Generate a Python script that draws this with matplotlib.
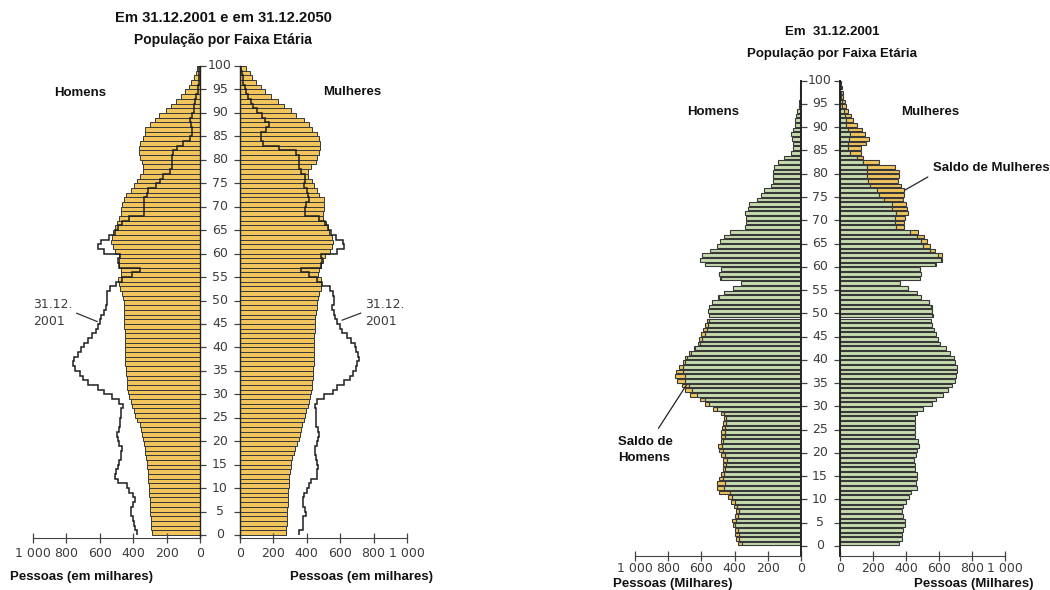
import matplotlib
matplotlib.use("Agg")
import matplotlib.pyplot as plt
import numpy as np
from matplotlib.transforms import blended_transform_factory

# ---------------- data (thousands of persons, ages 0..99) ----------------
ages = np.arange(100)

male_2001 = [377, 392, 396, 400, 412, 416, 400, 392, 404, 424,
             440, 492, 508, 504, 492, 484, 472, 472, 468, 484,
             492, 500, 484, 480, 480, 476, 472, 464, 484, 528,
             576, 608, 668, 700, 716, 748, 760, 752, 732, 712,
             696, 672, 644, 620, 612, 600, 592, 576, 564, 556,
             558, 554, 538, 502, 466, 410, 362, 486, 494, 482,
             576, 610, 594, 546, 506, 490, 466, 426, 338, 334,
             334, 338, 318, 314, 266, 238, 222, 182, 170, 166,
             166, 162, 138, 102, 58, 50, 50, 54, 58, 46,
             38, 34, 30, 22, 14, 10, 8, 6, 4, 3]

female_2001 = [356, 376, 376, 380, 396, 392, 380, 376, 384, 400,
               416, 428, 464, 460, 468, 464, 456, 452, 448, 460,
               468, 476, 470, 456, 456, 456, 454, 452, 464, 504,
               556, 580, 624, 656, 676, 696, 700, 712, 708, 696,
               688, 664, 640, 608, 596, 580, 568, 560, 552, 564,
               560, 556, 540, 492, 464, 412, 364, 484, 492, 484,
               580, 620, 616, 576, 544, 528, 508, 472, 388, 388,
               396, 412, 408, 400, 384, 388, 388, 368, 352, 356,
               356, 336, 236, 140, 128, 128, 156, 176, 152, 132,
               104, 80, 68, 48, 36, 28, 20, 16, 12, 8]

male_2050 = [289, 292, 294, 296, 297, 299, 300, 302, 303, 305,
             307, 309, 311, 313, 316, 319, 323, 327, 331, 335,
             339, 345, 352, 362, 376, 390, 398, 406, 414, 426,
             434, 436, 438, 440, 442, 446, 447, 448, 449, 450,
             450, 451, 452, 452, 453, 454, 455, 456, 457, 458,
             462, 466, 482, 486, 494, 474, 474, 486, 486, 488,
             510, 520, 530, 524, 518, 510, 498, 486, 474, 474,
             466, 458, 446, 414, 398, 378, 358, 343, 339, 347,
             358, 363, 363, 358, 343, 331, 327, 299, 271, 243,
             203, 175, 143, 112, 88, 68, 52, 36, 24, 16]

female_2050 = [275, 277, 279, 281, 282, 283, 285, 286, 288, 290,
               291, 293, 295, 299, 303, 307, 314, 321, 331, 341,
               351, 358, 367, 374, 381, 388, 398, 406, 416, 422,
               428, 431, 434, 436, 438, 440, 441, 442, 443, 444,
               444, 445, 446, 447, 447, 448, 452, 456, 460, 464,
               468, 476, 484, 488, 488, 468, 476, 488, 496, 508,
               536, 548, 554, 548, 532, 524, 512, 496, 496, 504,
               504, 500, 472, 460, 444, 432, 408, 408, 424, 456,
               464, 472, 482, 480, 472, 464, 432, 416, 383, 335,
               303, 263, 227, 187, 150, 126, 94, 74, 58, 38]

age_ticks = list(range(0, 101, 5))
x_ticks = [0, 200, 400, 600, 800, 1000]
x_ticklabels = ['0', '200', '400', '600', '800', '1 000']

# ---------------- style ----------------
W, H = 1050, 590
ORANGE = '#F2C55C'
GREEN = '#C6DEAF'
EDGE = '#383838'
TXT = '#3c3c3c'
BOLD = dict(family='Liberation Sans', fontweight='bold', color='#111111')
NUM = dict(family='DejaVu Sans', color=TXT)

fig = plt.figure(figsize=(W / 100, H / 100), dpi=100)
fig.patch.set_facecolor('white')


def fx(px):
    return px / W


def fy(py):
    return 1 - py / H


def make_axes(x0, x1, age0_py, age100_py, ylo, yhi):
    ppa = (age0_py - age100_py) / 100.0
    bottom_py = age0_py - ylo * ppa
    top_py = age0_py - yhi * ppa
    ax = fig.add_axes([fx(x0), fy(bottom_py), (x1 - x0) / W, (bottom_py - top_py) / H])
    ax.set_ylim(ylo, yhi)
    return ax


def style(ax, side, ylo, spine_lw=1.0, xpad=3):
    ax.patch.set_alpha(0)
    ax.spines['top'].set_visible(False)
    if side == 'male':
        ax.set_xlim(1000, 0)
        ax.spines['left'].set_visible(False)
        ax.yaxis.tick_right()
        sp = ax.spines['right']
    else:
        ax.set_xlim(0, 1000)
        ax.spines['right'].set_visible(False)
        ax.yaxis.tick_left()
        sp = ax.spines['left']
    sp.set_bounds(ylo, 100)
    sp.set_linewidth(spine_lw)
    sp.set_color('#222222')
    ax.spines['bottom'].set_color('#444444')
    ax.set_yticks(age_ticks)
    ax.tick_params(axis='y', direction='out', length=4, width=0.9, color='#444444',
                   labelleft=False, labelright=False)
    ax.set_xticks(x_ticks)
    ax.set_xticklabels(x_ticklabels, **NUM)
    ax.tick_params(axis='x', direction='inout', length=7, width=0.9, color='#444444',
                   labelsize=9, labelcolor=TXT, pad=xpad)


def age_labels(ax, center_px):
    tr = blended_transform_factory(fig.transFigure, ax.transData)
    for a in age_ticks:
        ax.text(fx(center_px), a, str(a), transform=tr, ha='center', va='center',
                fontsize=9, clip_on=False, **NUM)


# ================= LEFT CHART (2001 vs 2050) =================
ylo_l = -0.7
axLm = make_axes(33, 200, 535, 66, ylo_l, 100.4)
axLf = make_axes(240, 407, 535, 66, ylo_l, 100.4)
for ax, side, v50, v01 in [(axLm, 'male', male_2050, male_2001),
                           (axLf, 'female', female_2050, female_2001)]:
    style(ax, side, ylo_l, xpad=3)
    ax.barh(ages, v50, height=1.0, align='edge', color=ORANGE, edgecolor=EDGE, linewidth=0.7)
    ax.stairs(v01, np.arange(101), orientation='horizontal', baseline=None,
              color='#1e1e1e', linewidth=1.1)
age_labels(axLm, 220)

fig.text(fx(223), fy(18), 'Em 31.12.2001 e em 31.12.2050', ha='center', va='center',
         fontsize=10.6, **BOLD)
fig.text(fx(223), fy(40), 'População por Faixa Etária', ha='center', va='center',
         fontsize=10, **BOLD)
fig.text(fx(80), fy(93), 'Homens', ha='center', va='center', fontsize=9.5, **BOLD)
fig.text(fx(352), fy(92), 'Mulheres', ha='center', va='center', fontsize=9.5, **BOLD)
fig.text(fx(10), fy(577), 'Pessoas (em milhares)', ha='left', va='center', fontsize=9.5, **BOLD)
fig.text(fx(433), fy(577), 'Pessoas (em milhares)', ha='right', va='center', fontsize=9.5, **BOLD)

axLm.annotate('31.12.\n2001', xy=(615, 45.5), xycoords='data',
              xytext=(fx(33), fy(313)), textcoords='figure fraction',
              ha='left', va='center', fontsize=9, linespacing=1.35, **NUM,
              arrowprops=dict(arrowstyle='-', color='#333333', lw=0.9,
                              relpos=(1.0, 0.55), shrinkA=1, shrinkB=0))
axLf.annotate('31.12.\n2001', xy=(611, 45.8), xycoords='data',
              xytext=(fx(365), fy(313)), textcoords='figure fraction',
              ha='left', va='center', fontsize=9, linespacing=1.35, **NUM,
              arrowprops=dict(arrowstyle='-', color='#333333', lw=0.9,
                              relpos=(0.0, 0.55), shrinkA=1, shrinkB=0))

# ================= RIGHT CHART (2001 with surplus) =================
ylo_r = -2.2
axRm = make_axes(635, 801, 546, 80.7, ylo_r, 100.5)
axRf = make_axes(840, 1005, 546, 80.7, ylo_r, 100.5)
m01 = np.array(male_2001)
f01 = np.array(female_2001)
common = np.minimum(m01, f01)
ycent = ages + 0.5
for ax, side, own in [(axRm, 'male', m01), (axRf, 'female', f01)]:
    style(ax, side, ylo_r, spine_lw=1.4, xpad=1)
    ax.barh(ycent, common, height=0.78, color=GREEN, edgecolor=EDGE, linewidth=0.8)
    surplus = own - common
    mask = surplus > 0
    ax.barh(ycent[mask], surplus[mask], left=common[mask], height=0.78, color=ORANGE,
            edgecolor=EDGE, linewidth=0.8)
age_labels(axRm, 820)

fig.text(fx(832), fy(32), 'Em  31.12.2001', ha='center', va='center', fontsize=9.5, **BOLD)
fig.text(fx(832), fy(54), 'População por Faixa Etária', ha='center', va='center',
         fontsize=9.5, **BOLD)
fig.text(fx(713), fy(112), 'Homens', ha='center', va='center', fontsize=9.5, **BOLD)
fig.text(fx(930), fy(112), 'Mulheres', ha='center', va='center', fontsize=9.5, **BOLD)
fig.text(fx(613), fy(584), 'Pessoas (Milhares)', ha='left', va='center', fontsize=9.5, **BOLD)
fig.text(fx(1033), fy(584), 'Pessoas (Milhares)', ha='right', va='center', fontsize=9.5, **BOLD)

axRf.annotate('Saldo de Mulheres', xy=(394, 76.5), xycoords='data',
              xytext=(fx(933), fy(168)), textcoords='figure fraction',
              ha='left', va='center', fontsize=9.5, **BOLD,
              arrowprops=dict(arrowstyle='-', color='#222222', lw=0.9,
                              relpos=(0.0, 0.0), shrinkA=2, shrinkB=0))
axRm.annotate('Saldo de\nHomens', xy=(690, 34.6), xycoords='data',
              xytext=(fx(618), fy(450)), textcoords='figure fraction',
              ha='left', va='center', fontsize=9.5, linespacing=1.5, **BOLD,
              arrowprops=dict(arrowstyle='-', color='#222222', lw=0.9,
                              relpos=(0.65, 1.0), shrinkA=4, shrinkB=0))

fig.savefig('out.png', dpi=100, facecolor='white')
